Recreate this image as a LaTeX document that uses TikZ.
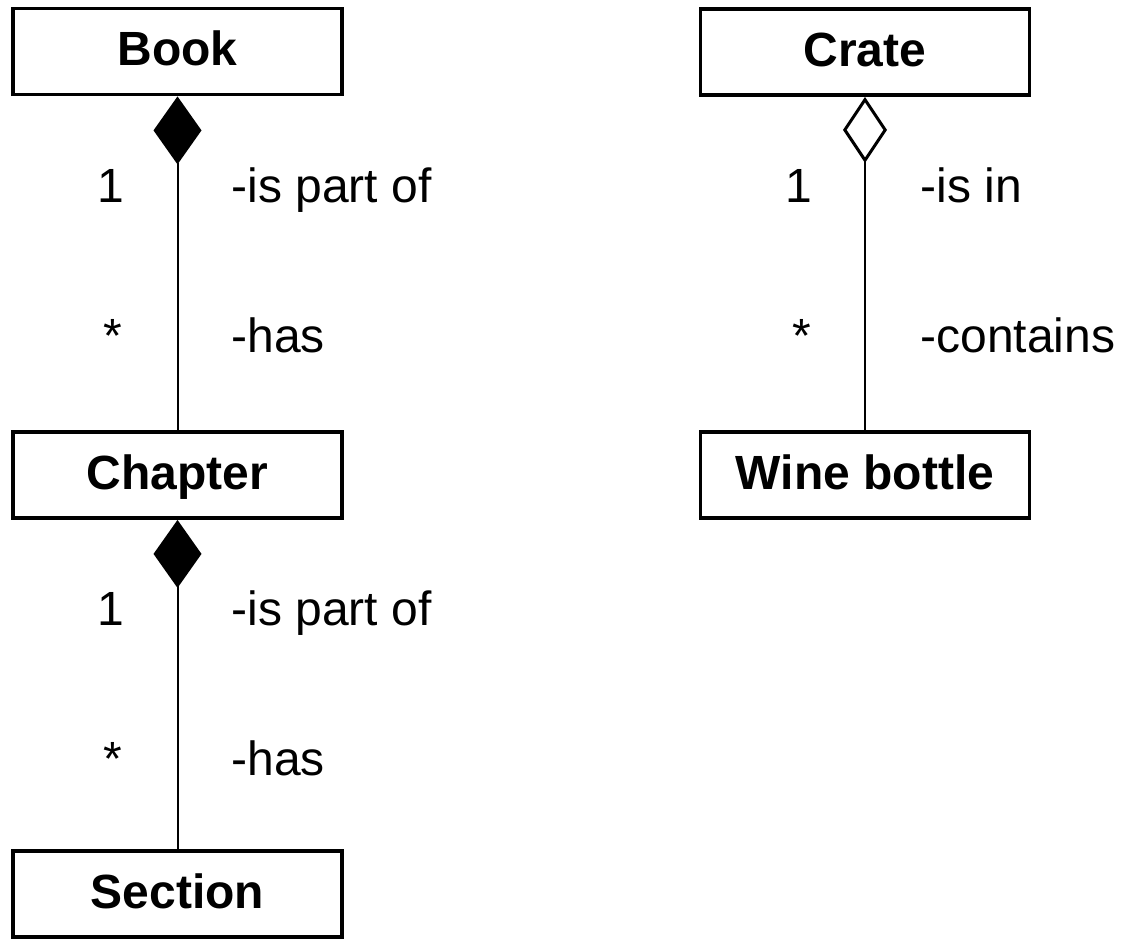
\documentclass[tikz,border=0pt]{standalone}
\usepackage{fontspec}
\setmainfont{Liberation Sans}
\usetikzlibrary{arrows.meta}
\begin{document}
\begin{tikzpicture}[x=0.5pt,y=-0.5pt,
  cls/.style={draw, line width=1.9pt, minimum width=164.5pt, minimum height=43pt,
    inner sep=0pt, font=\fontsize{24}{28}\selectfont\bfseries,
    text height=17.3pt, text depth=2.9pt},
  lbl/.style={anchor=base west, inner sep=0pt, font=\fontsize{24}{28}\selectfont},
  assoc/.style={line width=1pt},
  comp/.style={assoc, {Diamond[length=34pt,width=24pt]}-},
  aggr/.style={assoc, {Diamond[open,length=33pt,width=22pt,line width=1.5pt]}-}]
\useasboundingbox (0,0) rectangle (1124,939);

% classes
\node[cls] (book)    at (177.5,51.5) {Book};
\node[cls] (chapter) at (177.5,475)  {Chapter};
\node[cls] (section) at (177.5,894)  {Section};
\node[cls] (crate)   at (865,52)     {Crate};
\node[cls] (wine)    at (865,475)    {Wine bottle};

% composition and aggregation links
\draw[comp] (book.south) -- (chapter.north);
\draw[comp] (chapter.south) -- (section.north);
\draw[aggr] (crate.south) -- (wine.north);

% multiplicities and role names
\node[lbl] (m1) at (97,202)  {1};
\node[lbl] (r1) at (231,202) {-is part of};
\node[lbl] (m2) at (103,352) {*};
\node[lbl] (r2) at (231,352) {-has};
\node[lbl] (m3) at (97,625)  {1};
\node[lbl] (r3) at (231,625) {-is part of};
\node[lbl] (m4) at (103,775) {*};
\node[lbl] (r4) at (231,775) {-has};
\node[lbl] (m5) at (785,202) {1};
\node[lbl] (r5) at (920,202) {-is in};
\node[lbl] (m6) at (792,352) {*};
\node[lbl] (r6) at (920,352) {-contains};
\end{tikzpicture}
\end{document}
